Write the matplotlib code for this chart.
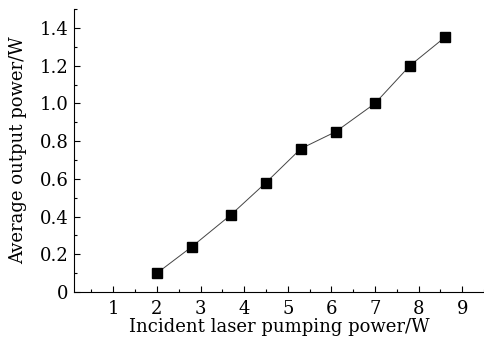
import matplotlib.pyplot as plt
from matplotlib.ticker import MultipleLocator

pump_power = [2.0, 2.8, 3.7, 4.5, 5.3, 6.1, 7.0, 7.8, 8.6]
output_power = [0.10, 0.24, 0.41, 0.58, 0.76, 0.85, 1.00, 1.20, 1.35]

plt.rcParams['font.family'] = 'DejaVu Serif'

fig = plt.figure(figsize=(4.84, 3.38), dpi=100)
ax = fig.add_axes([0.153, 0.136, 0.847, 0.837])

ax.plot(pump_power, output_power, color='#444444', linewidth=0.7,
        marker='s', markersize=6.5, markerfacecolor='black', markeredgecolor='black')

ax.set_xlim(0.1, 9.5)
ax.set_ylim(0, 1.5)
ax.xaxis.set_major_locator(MultipleLocator(1))
ax.xaxis.set_minor_locator(MultipleLocator(0.5))
ax.yaxis.set_minor_locator(MultipleLocator(0.1))
ax.set_yticks([0, 0.2, 0.4, 0.6, 0.8, 1.0, 1.2, 1.4])
ax.set_yticklabels(['0', '0.2', '0.4', '0.6', '0.8', '1.0', '1.2', '1.4'])

ax.spines['top'].set_visible(False)
ax.spines['right'].set_visible(False)
ax.spines['left'].set_linewidth(0.8)
ax.spines['bottom'].set_linewidth(0.8)
ax.tick_params(which='major', direction='in', length=4, width=0.8, labelsize=13, pad=4)
ax.tick_params(axis='x', which='major', pad=6)
ax.tick_params(which='minor', direction='in', length=2, width=0.8)

ax.set_xlabel('Incident laser pumping power/W', fontsize=13, labelpad=0)
ax.set_ylabel('Average output power/W', fontsize=13, labelpad=9)

fig.savefig('out.png', dpi=100)
